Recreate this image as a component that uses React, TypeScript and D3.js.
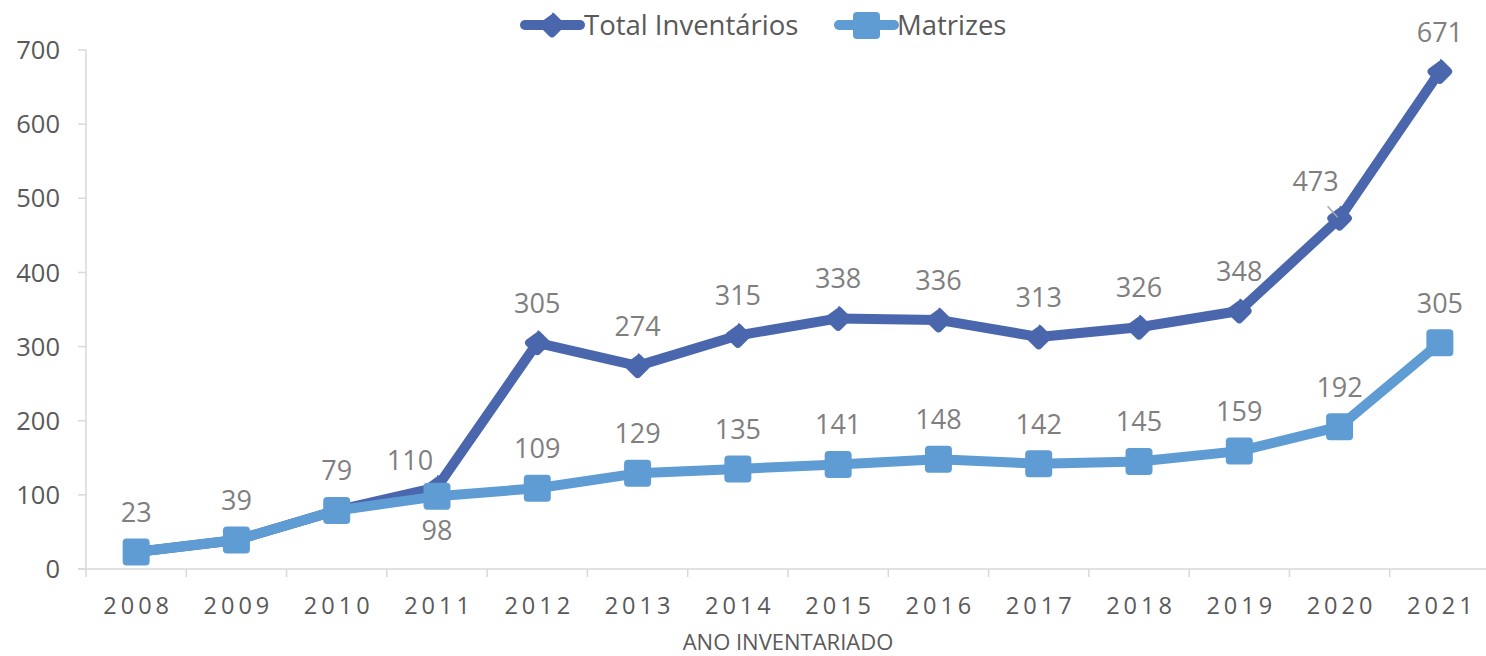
import React from "react";
import * as d3 from "d3";

const years = ["2008","2009","2010","2011","2012","2013","2014","2015","2016","2017","2018","2019","2020","2021"];
const totalInventarios = [23, 39, 79, 110, 305, 274, 315, 338, 336, 313, 326, 348, 473, 671];
const matrizes = [23, 39, 79, 98, 109, 129, 135, 141, 148, 142, 145, 159, 192, 305];
const yTicks = [0, 100, 200, 300, 400, 500, 600, 700];

const W = 1486, H = 656;
const FONT = "'Open Sans', 'Liberation Sans', sans-serif";
const C_TOTAL = "#4A66AC";
const C_MATR = "#5E9CD3";
const TEXT = "#595959";
const LABEL = "#7F7F7F";
const AXIS = "#D9D9D9";

export default function App() {
  const x = d3.scaleBand().domain(years).range([86, 1490]);
  const y = d3.scaleLinear().domain([0, 700]).range([569, 50]);
  const cx = (i: number) => (x(years[i]) as number) + x.bandwidth() / 2;
  const line = d3.line<number>().x((_, i) => cx(i)).y((d) => y(d));

  const diamond = (px: number, py: number, r: number) => {
    const c = 3;
    return `M${px},${py - r + c} Q${px},${py - r} ${px + c},${py - r + c} L${px + r - c},${py - c} Q${px + r},${py} ${px + r - c},${py + c} L${px + c},${py + r - c} Q${px},${py + r} ${px - c},${py + r - c} L${px - r + c},${py + c} Q${px - r},${py} ${px - r + c},${py - c} Z`;
  };

  const totalLabelDx = (i: number) => (i === 3 ? -27 : i === 12 ? -24 : 0);
  const totalLabelDy = (i: number) => (i === 12 ? -27 : i === 3 ? -17 : -30);

  return (
    <svg width={W} height={H} style={{ position: "absolute", left: 0, top: 0, background: "#fff" }}>
      {/* legend */}
      <g>
        <line x1={525} x2={580} y1={25} y2={25} stroke={C_TOTAL} strokeWidth={10} strokeLinecap="round" />
        <path d={diamond(552, 25, 14)} fill={C_TOTAL} />
        <text x={584} y={35} fontFamily={FONT} fontSize={27.5} fill={TEXT}>Total Inventários</text>
        <line x1={839} x2={894} y1={25} y2={25} stroke={C_MATR} strokeWidth={10} strokeLinecap="round" />
        <rect x={853} y={12} width={27} height={27} rx={4} fill={C_MATR} />
        <text x={897} y={35} fontFamily={FONT} fontSize={27.5} fill={TEXT}>Matrizes</text>
      </g>

      {/* y axis */}
      <line x1={86} x2={86} y1={50} y2={569} stroke={AXIS} strokeWidth={1.5} />
      {yTicks.map((t) => (
        <g key={t}>
          <line x1={78} x2={86} y1={y(t)} y2={y(t)} stroke={AXIS} strokeWidth={1.5} />
          <text x={60} y={y(t)} dy="0.36em" textAnchor="end" fontFamily={FONT} fontSize={25.5} fill={TEXT}>{t}</text>
        </g>
      ))}

      {/* x axis */}
      <line x1={78} x2={1490} y1={569} y2={569} stroke={AXIS} strokeWidth={1.5} />
      {years.map((yr, i) => (
        <g key={yr}>
          <line x1={x(yr)} x2={x(yr)} y1={569} y2={577} stroke={AXIS} strokeWidth={1.5} />
          <text x={cx(i) + 2} y={614} textAnchor="middle" fontFamily={FONT} fontSize={23.5} letterSpacing={4} fill={TEXT}>{yr}</text>
        </g>
      ))}
      <text x={788} y={650} textAnchor="middle" fontFamily={FONT} fontSize={22} fill={TEXT}>ANO INVENTARIADO</text>

      {/* Total line */}
      <path d={line(totalInventarios) || ""} fill="none" stroke={C_TOTAL} strokeWidth={10} strokeLinejoin="round" strokeLinecap="round" />
      {totalInventarios.map((v, i) => (
        <path key={i} d={diamond(cx(i), y(v), 14)} fill={C_TOTAL} />
      ))}

      {/* Matrizes line */}
      <path d={line(matrizes) || ""} fill="none" stroke={C_MATR} strokeWidth={10} strokeLinejoin="round" strokeLinecap="round" />
      {matrizes.map((v, i) => (
        <rect key={i} x={cx(i) - 13.5} y={y(v) - 13.5} width={27} height={27} rx={4} fill={C_MATR} />
      ))}

      {/* leader line for 473 */}
      <line x1={cx(12) - 12} y1={y(473) - 12} x2={cx(12) - 2} y2={y(473) - 1} stroke="#A6A6A6" strokeWidth={1.5} />

      {/* Total labels */}
      {totalInventarios.map((v, i) => (
        <text key={i} x={cx(i) + totalLabelDx(i)} y={y(v) + totalLabelDy(i)} textAnchor="middle" fontFamily={FONT} fontSize={27} fill={LABEL}>{v}</text>
      ))}
      {/* Matrizes labels */}
      {matrizes.map((v, i) =>
        v === totalInventarios[i] ? null : (
          <text key={i} x={cx(i)} y={i === 3 ? y(v) + 44 : y(v) - 30} textAnchor="middle" fontFamily={FONT} fontSize={27} fill={LABEL}>{v}</text>
        )
      )}
    </svg>
  );
}
